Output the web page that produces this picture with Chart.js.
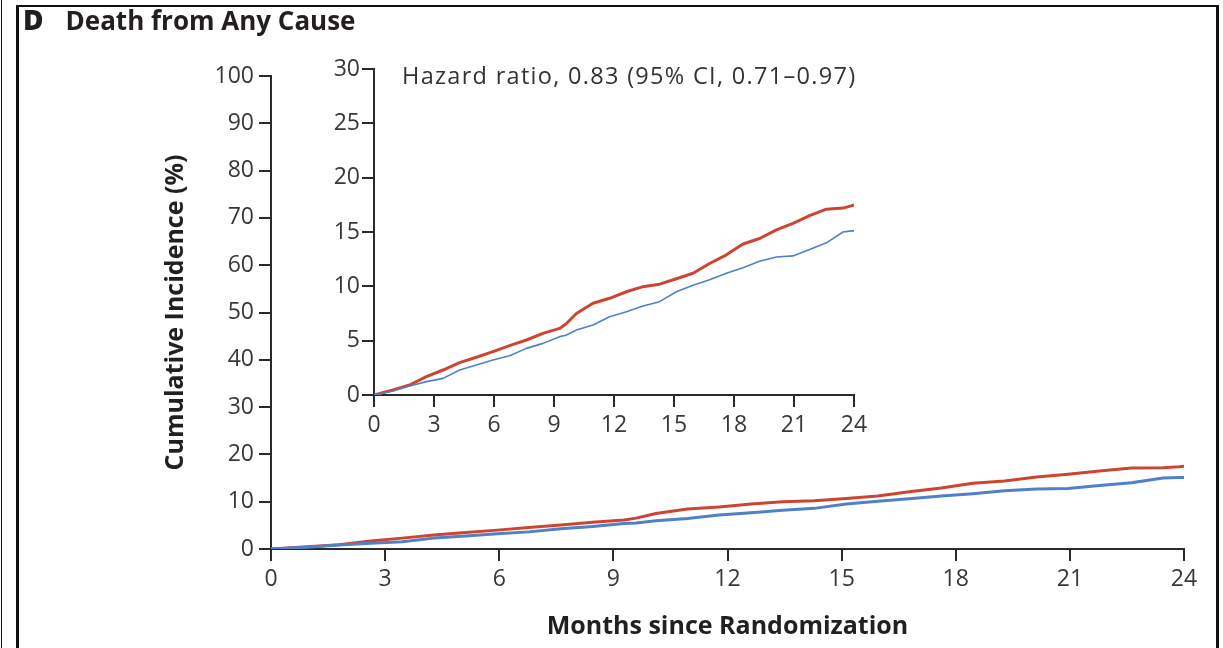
<!DOCTYPE html>
<html>
<head>
<meta charset="utf-8">
<script src="https://cdn.jsdelivr.net/npm/chart.js@4"></script>
<style>
  html, body { margin: 0; padding: 0; background: #fff; }
  #wrap { position: relative; width: 1223px; height: 648px; overflow: hidden; background: #fff; font-family: 'Open Sans', sans-serif; color: #2b2b2b; }
  #main { position: absolute; left: 0; top: 0; }
  #inset { position: absolute; left: 300px; top: 40px; }
  .rule { position: absolute; background: #111; }
  #panel { position: absolute; left: 23px; top: 6px; font-size: 26px; line-height: 26px; font-weight: 700; white-space: nowrap; color: #231f20; }
  #panel .letter { font-weight: 800; font-size: 28px; margin-right: 22px; }
  #hr { position: absolute; left: 402px; top: 62px; font-size: 23.5px; line-height: 26px; font-weight: 400; letter-spacing: 1.3px; white-space: nowrap; color: #333; }
</style>
</head>
<body>
<div id="wrap">
  <canvas id="main" width="1223" height="648"></canvas>
  <canvas id="inset" width="580" height="420"></canvas>
  <div class="rule" style="left:1px;top:0;width:1px;height:648px;"></div>
  <div class="rule" style="left:16px;top:5px;width:3px;height:643px;"></div>
  <div class="rule" style="left:16px;top:5px;width:1203px;height:2px;"></div>
  <div class="rule" style="left:1216px;top:5px;width:3px;height:643px;"></div>
  <div id="panel"><span class="letter">D</span>Death from Any Cause</div>
  <div id="hr">Hazard ratio, 0.83 (95% CI, 0.71–0.97)</div>
</div>
<script>
// Cumulative incidence of death (%) by month since randomization
const months   = [0, 0.95, 1.78, 2.62, 3.45, 4.28, 5.12, 5.95, 6.78, 7.62, 8.45, 9.28, 9.6, 10.12, 10.95, 11.78, 12.62, 13.45, 14.28, 15.12, 15.95, 16.78, 17.62, 18.45, 19.28, 20.12, 20.95, 21.78, 22.62, 23.45, 23.87, 24.0];
const redPct   = [0, 0.46, 0.92, 1.69, 2.3, 2.98, 3.47, 3.99, 4.54, 5.06, 5.67, 6.13, 6.53, 7.5, 8.44, 8.9, 9.5, 9.97, 10.2, 10.7, 11.2, 12.1, 12.9, 13.9, 14.4, 15.2, 15.8, 16.5, 17.1, 17.2, 17.4, 17.5];
const bluePct  = [0, 0.37, 0.83, 1.23, 1.53, 2.3, 2.76, 3.22, 3.62, 4.29, 4.75, 5.37, 5.5, 5.98, 6.44, 7.2, 7.67, 8.19, 8.59, 9.5, 10.1, 10.6, 11.2, 11.7, 12.3, 12.7, 12.8, 13.4, 14.0, 15.0, 15.1, 15.1];

const monthTicks = [0, 3, 6, 9, 12, 15, 18, 21, 24];
const mainYTicks = [0, 10, 20, 30, 40, 50, 60, 70, 80, 90, 100];
const insetYTicks = [0, 5, 10, 15, 20, 25, 30];

const RED = '#cd4530';
const BLUE = '#4f80c8';
const AXIS = '#2a2a2a';
const TEXT = '#383838';
const tickFont = { family: "'Open Sans', sans-serif", size: 23, weight: '400' };
const titleFont = { family: "'Open Sans', sans-serif", size: 25, weight: '700' };

const toPoints = vals => months.map((m, i) => ({ x: m, y: vals[i] }));
const fixedTicks = list => scale => { scale.ticks = list.map(v => ({ value: v })); };

function series(label, vals, color, width) {
  return { label, data: toPoints(vals), borderColor: color, backgroundColor: color, borderWidth: width,
           pointRadius: 0, fill: false, tension: 0, borderJoinStyle: 'round' };
}

function axisGrid() {
  return { drawOnChartArea: false, drawTicks: true, tickLength: 12, color: AXIS, lineWidth: 2 };
}

Chart.defaults.font.family = "'Open Sans', sans-serif";

// Main panel: full 0-100% scale
new Chart(document.getElementById('main'), {
  type: 'line',
  data: { datasets: [series('Blue', bluePct, BLUE, 3), series('Red', redPct, RED, 3)] },
  options: {
    responsive: false, animation: false,
    layout: { padding: { left: 0, right: 39, top: 76, bottom: 0 } },
    plugins: { legend: { display: false }, tooltip: { enabled: false }, title: { display: false } },
    scales: {
      x: {
        type: 'linear', min: 0, max: 24,
        afterBuildTicks: fixedTicks(monthTicks),
        afterFit: s => { s.height = 99; },
        grid: axisGrid(),
        border: { display: true, color: AXIS, width: 2 },
        ticks: { color: TEXT, font: tickFont, padding: 5, maxRotation: 0, autoSkip: false },
        title: { display: true, text: 'Months since Randomization', color: '#231f20', font: titleFont, padding: { top: 0, bottom: 6 } }
      },
      y: {
        type: 'linear', min: 0, max: 100,
        afterBuildTicks: fixedTicks(mainYTicks),
        afterFit: s => { s.width = 271; },
        grid: axisGrid(),
        border: { display: true, color: AXIS, width: 2 },
        ticks: { color: TEXT, font: tickFont, padding: 5, autoSkip: false },
        title: { display: true, text: 'Cumulative Incidence (%)', color: '#231f20', font: titleFont, padding: { top: 161, bottom: 0 } }
      }
    }
  }
});

// Inset: same curves on a 0-30% scale
new Chart(document.getElementById('inset'), {
  type: 'line',
  data: { datasets: [series('Blue', bluePct, BLUE, 1.6), series('Red', redPct, RED, 3)] },
  options: {
    responsive: false, animation: false,
    layout: { padding: { left: 0, right: 26, top: 29, bottom: 0 } },
    plugins: { legend: { display: false }, tooltip: { enabled: false } },
    scales: {
      x: {
        type: 'linear', min: 0, max: 24,
        afterBuildTicks: fixedTicks(monthTicks),
        afterFit: s => { s.height = 65; },
        grid: axisGrid(),
        border: { display: true, color: AXIS, width: 2 },
        ticks: { color: TEXT, font: tickFont, padding: 5, maxRotation: 0, autoSkip: false }
      },
      y: {
        type: 'linear', min: 0, max: 30,
        afterBuildTicks: fixedTicks(insetYTicks),
        afterFit: s => { s.width = 74; },
        grid: axisGrid(),
        border: { display: true, color: AXIS, width: 2 },
        ticks: { color: TEXT, font: tickFont, padding: 2, autoSkip: false }
      }
    }
  }
});
</script>
</body>
</html>
